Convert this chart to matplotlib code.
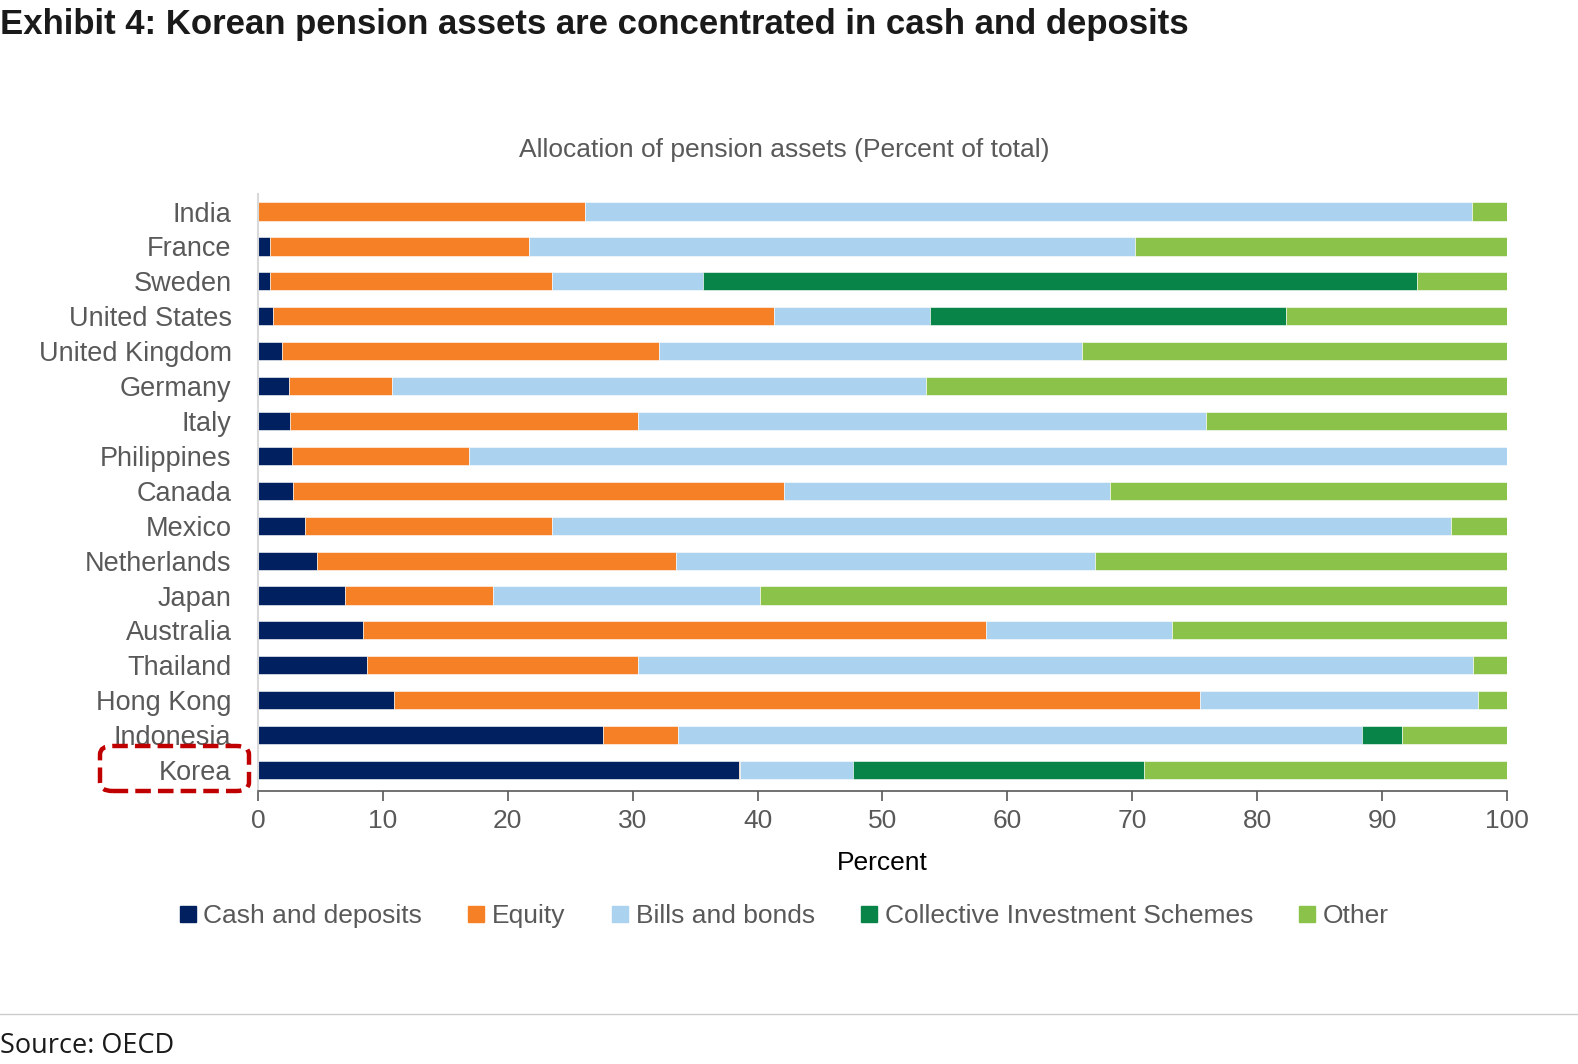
import numpy as np
import matplotlib
matplotlib.use('Agg')
import matplotlib.pyplot as plt
from matplotlib.patches import FancyBboxPatch
from matplotlib.lines import Line2D

countries = ['India', 'France', 'Sweden', 'United States', 'United Kingdom', 'Germany',
             'Italy', 'Philippines', 'Canada', 'Mexico', 'Netherlands', 'Japan',
             'Australia', 'Thailand', 'Hong Kong', 'Indonesia', 'Korea']

cash = [0.0, 1.0, 1.0, 1.2, 1.9, 2.5, 2.6, 2.7, 2.8, 3.8, 4.7, 7.0, 8.4, 8.7, 10.9, 27.6, 38.5]
equity = [26.2, 20.7, 22.5, 40.1, 30.2, 8.2, 27.8, 14.2, 39.3, 19.7, 28.8, 11.8, 49.9, 21.7, 64.5, 6.0, 0.1]
bills = [71.0, 48.5, 12.1, 12.5, 33.9, 42.8, 45.5, 83.1, 26.1, 72.0, 33.5, 21.4, 14.9, 66.9, 22.3, 54.8, 9.0]
cis = [0.0, 0.0, 57.2, 28.5, 0.0, 0.0, 0.0, 0.0, 0.0, 0.0, 0.0, 0.0, 0.0, 0.0, 0.0, 3.2, 23.3]
other = [2.8, 29.8, 7.2, 17.7, 34.0, 46.5, 24.1, 0.0, 31.8, 4.5, 33.0, 59.8, 26.8, 2.7, 2.3, 8.4, 29.1]

series_names = ['Cash and deposits', 'Equity', 'Bills and bonds',
                'Collective Investment Schemes', 'Other']
series_colors = ['#002060', '#F58025', '#ABD2EE', '#098449', '#8BC34A']

plt.rcParams['font.family'] = ['Liberation Sans', 'DejaVu Sans']

fig = plt.figure(figsize=(15.78, 10.64), dpi=100)
ax = fig.add_axes([0.1635, 0.2566, 0.7915, 0.561])

y = np.arange(len(countries))
left = np.zeros(len(countries))
for vals, name, col in zip([cash, equity, bills, cis, other], series_names, series_colors):
    vals = np.array(vals)
    ax.barh(y, vals, left=left, height=0.52, color=col, label=name,
            edgecolor='white', linewidth=0.4)
    left += vals

ax.set_xlim(0, 100)
ax.set_ylim(16.6, -0.5)
ax.set_yticks(y)
ax.set_yticklabels(countries, fontsize=19.5, color='#595959')
ax.set_xticks(np.arange(0, 101, 10))
ax.tick_params(axis='x', labelsize=19, labelcolor='#595959', color='#595959',
               length=7, width=1.2, pad=6)
ax.tick_params(axis='y', length=0, pad=19)
for s in ['top', 'right']:
    ax.spines[s].set_visible(False)
ax.spines['left'].set_color('#d9d9d9')
ax.spines['left'].set_linewidth(1.5)
ax.spines['bottom'].set_color('#595959')
ax.spines['bottom'].set_linewidth(1.2)
ax.set_xlabel('Percent', fontsize=19, color='black', labelpad=13)

fig.text(0.497, 0.859, 'Allocation of pension assets (Percent of total)',
         ha='center', va='center', fontsize=19, color='#595959')

fig.text(0.0, 0.977, 'Exhibit 4: Korean pension assets are concentrated in cash and deposits',
         ha='left', va='center', fontsize=25, fontweight='bold', color='#1a1a1a')

handles = [Line2D([0], [0], marker='s', linestyle='none', markersize=11,
                  markerfacecolor=c, markeredgecolor=c) for c in series_colors]
fig.legend(handles, series_names, loc='center', bbox_to_anchor=(0.497, 0.139),
           ncol=5, frameon=False, fontsize=19, labelcolor='#595959',
           handlelength=0.6, handletextpad=0.3, columnspacing=1.75)

fig.add_artist(Line2D([0, 1], [0.047, 0.047], transform=fig.transFigure,
                      color='#cccccc', linewidth=1))
fig.text(0.0, 0.017, 'Source: OECD', ha='left', va='center', fontsize=19.5,
         color='#1a1a1a', family=['Open Sans', 'DejaVu Sans'])

box = FancyBboxPatch((100 / 1578, 1 - 791 / 1064), 149 / 1578, 45 / 1064,
                     boxstyle='round,pad=0,rounding_size=0.008',
                     transform=fig.transFigure, fill=False,
                     edgecolor='#C00000', linewidth=3.2, linestyle=(0, (3.5, 1.6)),
                     clip_on=False)
fig.add_artist(box)

fig.savefig('out.png', dpi=100)
